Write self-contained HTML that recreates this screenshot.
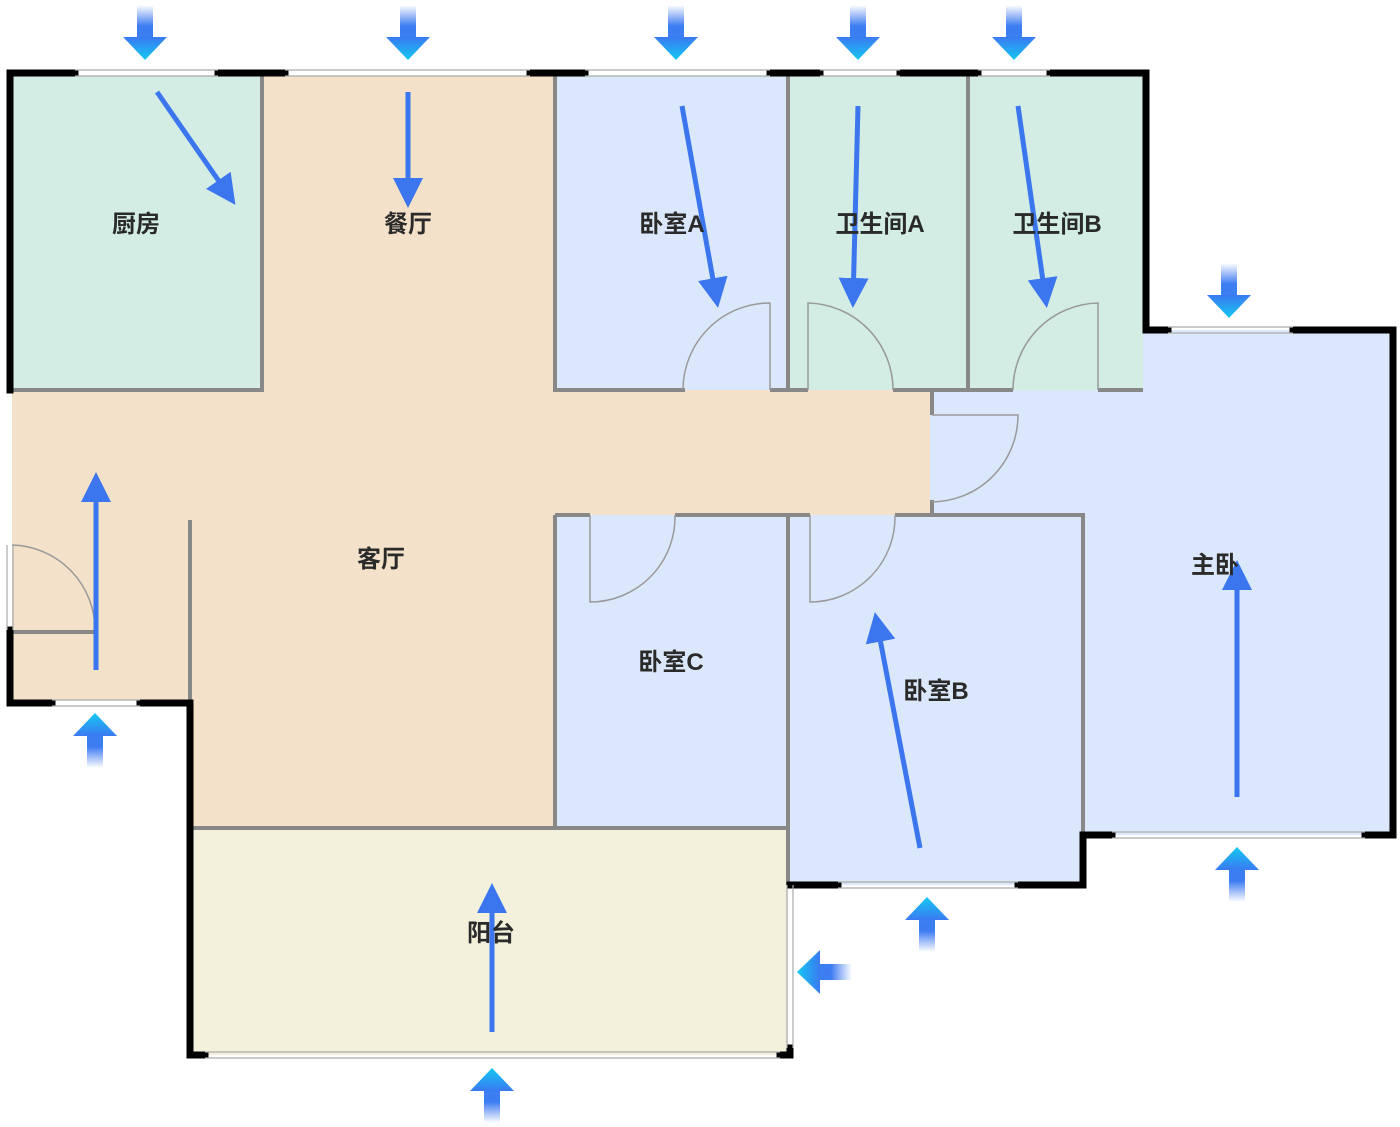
<!DOCTYPE html>
<html><head><meta charset="utf-8"><style>
html,body{margin:0;padding:0;background:#fff}
svg{display:block}
text{font-family:"Liberation Sans","Noto Sans CJK SC",sans-serif;font-size:24px;fill:#2a2a2a;text-anchor:middle;font-weight:bold}
</style></head><body>
<svg width="1400" height="1127" viewBox="0 0 1400 1127" xmlns="http://www.w3.org/2000/svg">
<defs>
<linearGradient id="gs" x1="0" y1="0" x2="0" y2="1"><stop offset="0" stop-color="#4a7cf2" stop-opacity="0"/><stop offset="0.6" stop-color="#3d7df2"/><stop offset="1" stop-color="#3a80f2"/></linearGradient>
<linearGradient id="gh" x1="0" y1="0" x2="0" y2="1"><stop offset="0" stop-color="#3a7af2"/><stop offset="1" stop-color="#14c8f2"/></linearGradient>
<marker id="ah" viewBox="0 0 10 10" refX="8" refY="5" markerWidth="6" markerHeight="6" orient="auto" markerUnits="strokeWidth"><path d="M0,0 L10,5 L0,10 z" fill="#3b76ee"/></marker>
<g id="wd"><rect x="-8" y="-55" width="16" height="35" fill="url(#gs)"/><path d="M-22,-23 L22,-23 L0,0 z" fill="url(#gh)"/></g>
</defs>
<g stroke="none">
<path d="M12,390 H930 V515 H555 V828 H190 V700 H12 Z" fill="#f3e1c9"/>
<rect x="262" y="76" width="293" height="320" fill="#f3e1c9"/>
<rect x="12" y="76" width="250" height="314" fill="#d3ede5"/>
<rect x="555" y="76" width="233" height="314" fill="#dbe8fb"/>
<rect x="788" y="76" width="180" height="314" fill="#d3ede5"/>
<rect x="968" y="76" width="175" height="314" fill="#d3ede5"/>
<path d="M1143,330 H1390 V835 H1083 V515 H930 V390 H1143 Z" fill="#dbe8fb"/>
<rect x="555" y="515" width="233" height="313" fill="#dbe8fb"/>
<rect x="788" y="515" width="295" height="370" fill="#dbe8fb"/>
<rect x="193" y="828" width="595" height="227" fill="#f3f0dc"/>
</g>
<g stroke="#888" stroke-width="4" fill="none">
<path d="M12,390 H262 V76"/>
<path d="M555,76 V390 H685 M770,390 H808 M893,390 H1013 M1098,390 H1143"/>
<path d="M788,76 V390 M968,76 V390"/>
<path d="M932,390 V415 M932,500 V515 H1083 V835"/>
<path d="M555,515 V828 M555,515 H590 M675,515 H810 M895,515 H932"/>
<path d="M788,515 V885"/>
<path d="M190,520 V700"/>
<path d="M193,828 H790"/>
<path d="M12,632 H95"/>
</g>
<g stroke="#999" stroke-width="1.5" fill="none">
<path d="M770,390 V303 A87,87 0 0 0 683,390"/>
<path d="M808,390 V303 A87,87 0 0 1 893,390"/>
<path d="M1098,390 V303 A87,87 0 0 0 1013,390"/>
<path d="M932,415 H1018 A87,87 0 0 1 932,502"/>
<path d="M590,515 V602 A85,85 0 0 0 675,515"/>
<path d="M810,515 V602 A85,85 0 0 0 895,515"/>
<path d="M12,545 A85,85 0 0 1 95,630"/>
</g>
<g stroke="#000" stroke-width="7" fill="none" stroke-linecap="square">
<path d="M75,73 H10 V390"/>
<path d="M10,630 V703 H52"/>
<path d="M140,703 H190 V1055 H205"/>
<path d="M218,73 H285 M530,73 H585 M770,73 H820 M900,73 H978 M1050,73 H1146 V330 H1168 M1293,330 H1393 V835 H1365"/>
<path d="M1112,835 H1083 V885 H1018 M838,885 H790"/>
<path d="M780,1055 H790 V1048"/>
</g>
<g stroke="#aaa" stroke-width="1.2" fill="none">
<path d="M75,70 H218 M75,76 H218 M285,70 H530 M285,76 H530 M585,70 H770 M585,76 H770 M820,70 H900 M820,76 H900 M978,70 H1050 M978,76 H1050"/>
<path d="M1168,327 H1293 M1168,333 H1293 M1112,832 H1365 M1112,838 H1365 M838,882 H1018 M838,888 H1018"/>
<path d="M52,700 H140 M52,706 H140 M205,1052 H780 M205,1058 H780 M787,885 V1048 M793,885 V1048"/>
<path d="M7,545 V630 M13,545 V630"/>
</g>
<use href="#wd" x="145" y="60"/><use href="#wd" x="408" y="60"/><use href="#wd" x="676" y="60"/><use href="#wd" x="858" y="60"/><use href="#wd" x="1014" y="60"/><use href="#wd" x="1229" y="318"/>
<g transform="translate(95,713) rotate(180)"><use href="#wd"/></g>
<g transform="translate(492,1068) rotate(180)"><use href="#wd"/></g>
<g transform="translate(927,897) rotate(180)"><use href="#wd"/></g>
<g transform="translate(1237,847) rotate(180)"><use href="#wd"/></g>
<g transform="translate(797,972) rotate(90)"><use href="#wd"/></g>
<g stroke="#3b76ee" stroke-width="5" fill="none" marker-end="url(#ah)">
<path d="M157,92 L232,200"/>
<path d="M408,92 V202"/>
<path d="M682,106 L717,302"/>
<path d="M858,106 L853,302"/>
<path d="M1018,106 L1046,302"/>
<path d="M96,670 V478"/>
<path d="M920,848 L876,618"/>
<path d="M1237,797 V566"/>
<path d="M492,1032 V889"/>
</g>
<text x="136" y="232">厨房</text>
<text x="408" y="232">餐厅</text>
<text x="672" y="232">卧室A</text>
<text x="880" y="232">卫生间A</text>
<text x="1057" y="232">卫生间B</text>
<text x="381" y="567">客厅</text>
<text x="671" y="670">卧室C</text>
<text x="936" y="699">卧室B</text>
<text x="1215" y="573">主卧</text>
<text x="491" y="941">阳台</text>
</svg>
</body></html>
